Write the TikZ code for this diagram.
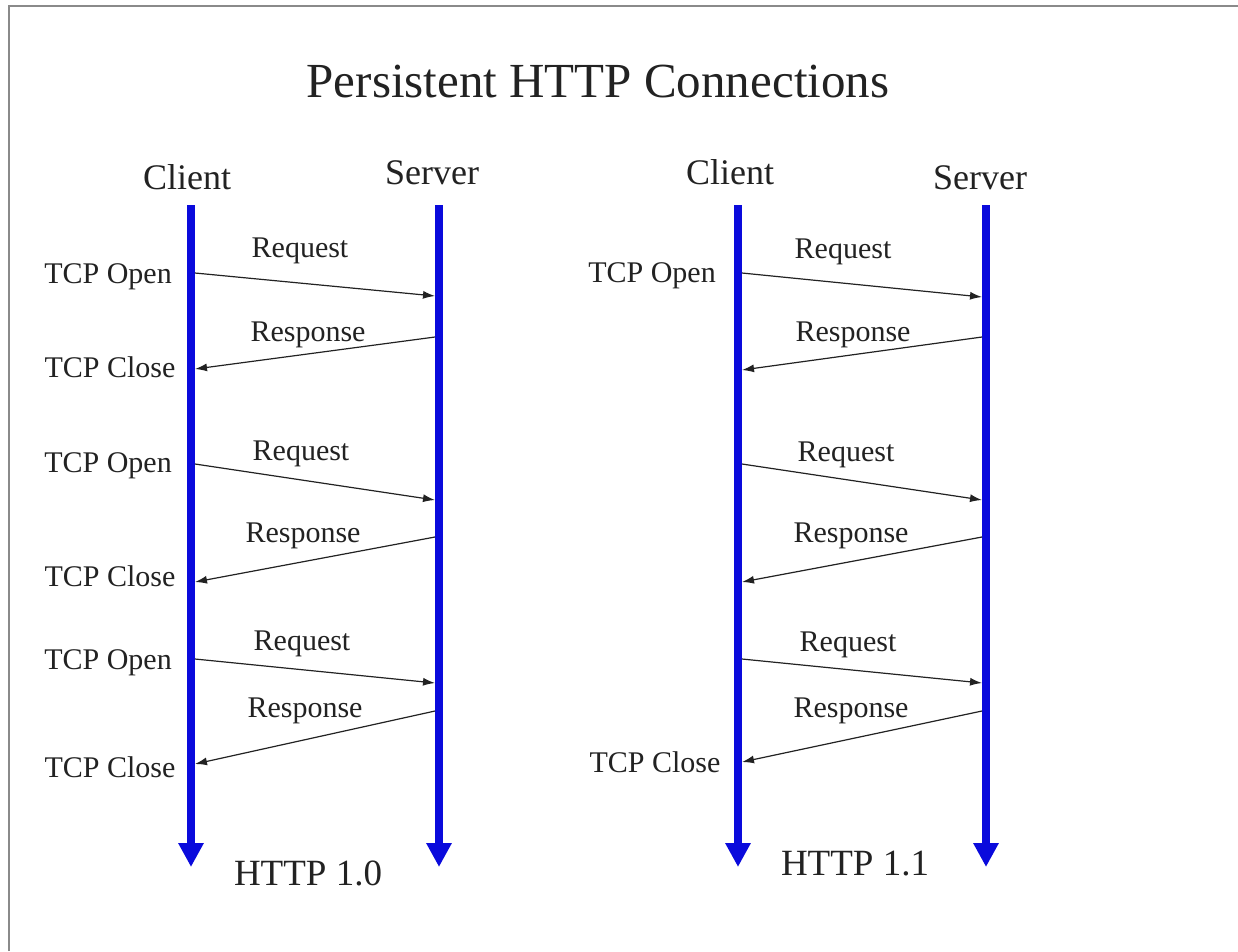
\documentclass[tikz,border=0pt]{standalone}
\usepackage{fontspec}
\setmainfont{Liberation Serif}
\usetikzlibrary{arrows.meta}
\definecolor{lifeblue}{HTML}{0A0ADC}
\definecolor{ink}{HTML}{222222}
\definecolor{framegray}{HTML}{8A8A8A}
\begin{document}
\begin{tikzpicture}[x=1pt,y=-1pt,
  lifeline/.style={lifeblue, line width=8pt, -{Triangle[width=24pt,length=24pt]}},
  msg/.style={ink, line width=1.2pt, -{Latex[length=12pt,width=8pt]}},
  txt/.style={anchor=base, text=ink, inner sep=0pt},
  small/.style={txt, font=\fontsize{30}{36}\selectfont},
  head/.style={txt, font=\fontsize{36}{42}\selectfont},
  foot/.style={txt, font=\fontsize{37}{44}\selectfont},
  titlestyle/.style={txt, font=\fontsize{49}{58}\selectfont}]
\useasboundingbox (0,0) rectangle (1238,951);
\fill[white] (0,0) rectangle (1238,951);
\draw[framegray, line width=2pt] (9,951) -- (9,6) -- (1238,6);

\node[titlestyle] (title) at (598,97) {Persistent HTTP Connections};

% ---------- HTTP 1.0 ----------
\node[head] (client1) at (187,189) {Client};
\node[head] (server1) at (432,184) {Server};
\coordinate (c1top) at (191,205); \coordinate (c1bot) at (191,867);
\coordinate (s1top) at (439,205); \coordinate (s1bot) at (439,867);
\draw[lifeline] (c1top) -- (c1bot);
\draw[lifeline] (s1top) -- (s1bot);

\coordinate (a1) at (195,273); \coordinate (b1) at (435,296);
\coordinate (a2) at (435,337); \coordinate (b2) at (195,369);
\coordinate (a3) at (195,464); \coordinate (b3) at (435,500);
\coordinate (a4) at (435,537); \coordinate (b4) at (195,582);
\coordinate (a5) at (195,659); \coordinate (b5) at (435,683);
\coordinate (a6) at (435,711); \coordinate (b6) at (195,764);
\draw[msg] (a1) -- (b1);
\draw[msg] (a2) -- (b2);
\draw[msg] (a3) -- (b3);
\draw[msg] (a4) -- (b4);
\draw[msg] (a5) -- (b5);
\draw[msg] (a6) -- (b6);

\node[small] (req1) at (300,257) {Request};
\node[small] (resp1) at (308,341) {Response};
\node[small] (req2) at (301,460) {Request};
\node[small] (resp2) at (303,542) {Response};
\node[small] (req3) at (302,650) {Request};
\node[small] (resp3) at (305,717) {Response};

\node[small] (open1) at (108,283) {TCP Open};
\node[small] (close1) at (110,377) {TCP Close};
\node[small] (open2) at (108,472) {TCP Open};
\node[small] (close2) at (110,586) {TCP Close};
\node[small] (open3) at (108,669) {TCP Open};
\node[small] (close3) at (110,777) {TCP Close};

\node[foot] (v10) at (308,885) {HTTP 1.0};

% ---------- HTTP 1.1 ----------
\node[head] (client2) at (730,184) {Client};
\node[head] (server2) at (980,189) {Server};
\coordinate (c2top) at (738,205); \coordinate (c2bot) at (738,867);
\coordinate (s2top) at (986,205); \coordinate (s2bot) at (986,867);
\draw[lifeline] (c2top) -- (c2bot);
\draw[lifeline] (s2top) -- (s2bot);

\coordinate (d1) at (742,273); \coordinate (e1) at (982,297);
\coordinate (d2) at (982,337); \coordinate (e2) at (742,370);
\coordinate (d3) at (742,464); \coordinate (e3) at (982,500);
\coordinate (d4) at (982,537); \coordinate (e4) at (742,582);
\coordinate (d5) at (742,659); \coordinate (e5) at (982,683);
\coordinate (d6) at (982,711); \coordinate (e6) at (742,762);
\draw[msg] (d1) -- (e1);
\draw[msg] (d2) -- (e2);
\draw[msg] (d3) -- (e3);
\draw[msg] (d4) -- (e4);
\draw[msg] (d5) -- (e5);
\draw[msg] (d6) -- (e6);

\node[small] (req4) at (843,258) {Request};
\node[small] (resp4) at (853,341) {Response};
\node[small] (req5) at (846,461) {Request};
\node[small] (resp5) at (851,542) {Response};
\node[small] (req6) at (848,651) {Request};
\node[small] (resp6) at (851,717) {Response};

\node[small] (open4) at (652,282) {TCP Open};
\node[small] (close4) at (655,772) {TCP Close};

\node[foot] (v11) at (855,875) {HTTP 1.1};
\end{tikzpicture}
\end{document}
